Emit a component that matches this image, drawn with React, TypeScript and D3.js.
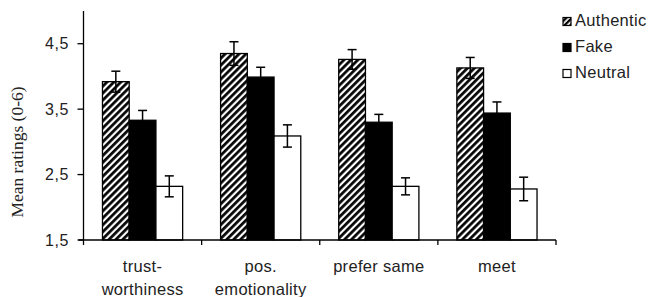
import React from "react";
import * as d3 from "d3";

const categories = [["trust-", "worthiness"], ["pos.", "emotionality"], ["prefer same"], ["meet"]];
const categoryKeys = ["trust", "pos", "prefer", "meet"];
const seriesNames = ["Authentic", "Fake", "Neutral"];
const authenticMeans = [3.92, 4.35, 4.26, 4.13];
const fakeMeans = [3.33, 3.99, 3.3, 3.44];
const neutralMeans = [2.32, 3.09, 2.32, 2.28];
const authenticErr = [0.16, 0.18, 0.15, 0.16];
const fakeErr = [0.15, 0.15, 0.12, 0.17];
const neutralErr = [0.16, 0.17, 0.13, 0.18];
const yTicks = [1.5, 2.5, 3.5, 4.5];
const yTickLabels = ["1,5", "2,5", "3,5", "4,5"];

const W = 651;
const H = 297;

export default function App() {
  const left = 83.5;
  const right = 556;
  const y = d3.scaleLinear().domain([1.5, 5]).range([240, 11]);
  const x0 = d3.scaleBand<string>().domain(categoryKeys).range([left, right]).paddingInner(0).paddingOuter(0);
  const x1 = d3.scaleBand<string>().domain(seriesNames).range([0, x0.bandwidth()]).paddingInner(0).paddingOuter(0.71);
  const means = [authenticMeans, fakeMeans, neutralMeans];
  const errs = [authenticErr, fakeErr, neutralErr];
  const fills = ["url(#hatch)", "#000", "#fff"];
  const font = "'Liberation Sans', Arial, sans-serif";
  const base = y(1.5);

  return (
    <svg width={W} height={H} style={{ position: "absolute", left: 0, top: 0, background: "#fff" }}>
      <defs>
        <pattern id="hatch" patternUnits="userSpaceOnUse" width={4.9} height={4.9} patternTransform="rotate(45)">
          <rect width={4.9} height={4.9} fill="#fff" />
          <line x1={1.4} y1={0} x2={1.4} y2={4.9} stroke="#000" strokeWidth={2.7} />
        </pattern>
        <pattern id="hatchSmall" patternUnits="userSpaceOnUse" width={4} height={4} patternTransform="rotate(45)">
          <rect width={4} height={4} fill="#fff" />
          <line x1={1} y1={0} x2={1} y2={4} stroke="#000" strokeWidth={2.6} />
        </pattern>
      </defs>

      {/* bars */}
      {categoryKeys.map((c, ci) => (
        <g key={c}>
          {seriesNames.map((s, si) => {
            const bx = (x0(c) as number) + (x1(s) as number);
            const bw = x1.bandwidth();
            const v = means[si][ci];
            return (
              <rect key={s} x={bx} y={y(v)} width={bw} height={base - y(v)} fill={fills[si]} stroke="#000" strokeWidth={1.3} />
            );
          })}
        </g>
      ))}

      {/* error bars */}
      {categoryKeys.map((c, ci) => (
        <g key={c + "e"}>
          {seriesNames.map((s, si) => {
            const cx = (x0(c) as number) + (x1(s) as number) + x1.bandwidth() / 2;
            const v = means[si][ci];
            const e = errs[si][ci];
            return (
              <g key={s} stroke="#000" strokeWidth={1.5}>
                <line x1={cx} x2={cx} y1={y(v + e)} y2={y(v - e)} />
                <line x1={cx - 4.5} x2={cx + 4.5} y1={y(v + e)} y2={y(v + e)} />
                <line x1={cx - 4.5} x2={cx + 4.5} y1={y(v - e)} y2={y(v - e)} />
              </g>
            );
          })}
        </g>
      ))}

      {/* y axis */}
      <line x1={left} x2={left} y1={y(5)} y2={base + 5} stroke="#000" strokeWidth={1.3} />
      {yTicks.map((t, i) => (
        <g key={t}>
          <line x1={left - 6} x2={left} y1={y(t)} y2={y(t)} stroke="#000" strokeWidth={1.3} />
          <text x={69} y={y(t) + 5.5} textAnchor="end" fontFamily={font} fontSize={16} letterSpacing={0.6} fill="#222">
            {yTickLabels[i]}
          </text>
        </g>
      ))}

      {/* x axis */}
      <line x1={left - 5} x2={right} y1={base} y2={base} stroke="#000" strokeWidth={1.3} />
      {categoryKeys.map((c) => (
        <line key={c + "t"} x1={(x0(c) as number) + x0.bandwidth()} x2={(x0(c) as number) + x0.bandwidth()} y1={base} y2={base + 5} stroke="#000" strokeWidth={1.3} />
      ))}
      {categoryKeys.map((c, ci) => (
        <text key={c + "l"} x={(x0(c) as number) + x0.bandwidth() / 2} y={272} textAnchor="middle" fontFamily={font} fontSize={16.5} letterSpacing={0.3} fill="#222">
          {categories[ci].map((ln, li) => (
            <tspan key={li} x={(x0(c) as number) + x0.bandwidth() / 2} dy={li === 0 ? 0 : 22.5}>
              {ln}
            </tspan>
          ))}
        </text>
      ))}

      {/* y label */}
      <text transform={`translate(23,152) rotate(-90)`} textAnchor="middle" fontFamily="'Liberation Serif', 'Times New Roman', serif" fontSize={17.5} fill="#222">
        Mean ratings (0-6)
      </text>

      {/* legend */}
      {seriesNames.map((s, si) => {
        const by = 26 + si * 26;
        return (
          <g key={s + "lg"}>
            <rect x={563} y={by - 8.5} width={8} height={8} fill={si === 0 ? "url(#hatchSmall)" : fills[si]} stroke="#000" strokeWidth={1.2} />
            <text x={575} y={by} fontFamily={font} fontSize={16.5} letterSpacing={0.3} fill="#222">
              {s}
            </text>
          </g>
        );
      })}
    </svg>
  );
}
